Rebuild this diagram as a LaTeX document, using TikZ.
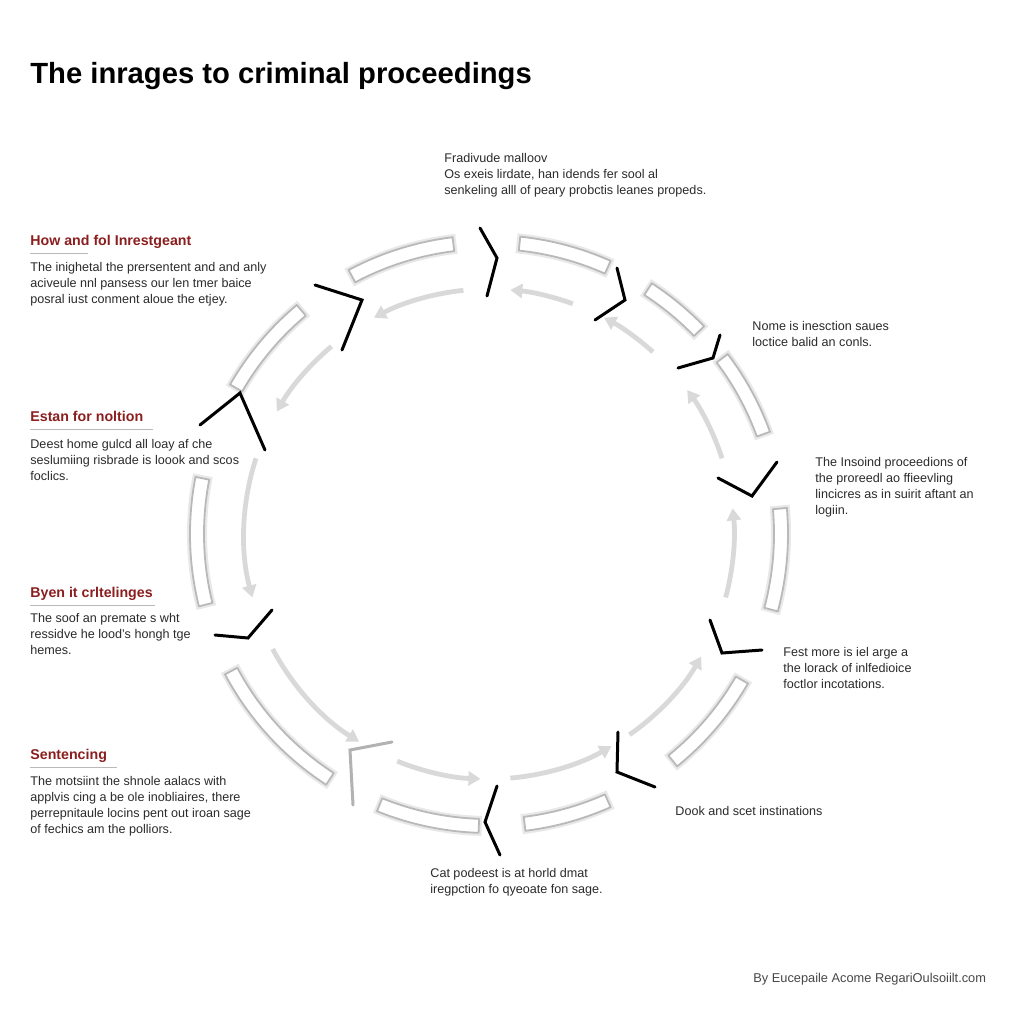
\documentclass[tikz,border=0pt]{standalone}
\usepackage{fontspec}
\setmainfont{Liberation Sans}
\usetikzlibrary{calc,arrows.meta}
\definecolor{hred}{HTML}{8B1E1E}
\definecolor{txt}{HTML}{2B2B2B}
\definecolor{foot}{HTML}{474747}
\tikzset{
  titletext/.style={anchor=base west, inner sep=0pt, font=\fontsize{14.6}{17}\selectfont\bfseries, text=black},
  headtext/.style={anchor=base west, inner sep=0pt, font=\fontsize{7.1}{9}\selectfont\bfseries, text=hred},
  bodytext/.style={anchor=north west, inner sep=0pt, align=left, font=\fontsize{6.3}{8}\selectfont, text=txt},
  uline/.style={draw=gray!55, line width=0.5pt},
  seg/.style={draw=gray!55, line width=0.9pt, fill=white, line join=round,
              preaction={draw=black!9, line width=3pt}},
  innerarc/.style={draw=gray!30, line width=2.4pt, -{Triangle[length=6pt,width=7pt]}},
  zig/.style={draw=black, line width=1.5pt, line join=miter, line cap=round},
  zigg/.style={draw=gray!60, line width=1.5pt, line join=miter, line cap=round}
}
\begin{document}
\begin{tikzpicture}[x=0.5pt,y=-0.5pt]
\useasboundingbox[fill=white] (0,0) rectangle (1024,1024);
\coordinate (c) at (489,534);

% inner ring arcs (math angles a->b, drawn with flipped y)
\foreach \a/\b in {96/118,130/150,162/195,208/238,248/268,275/300,305/330,345/366,18/36,48/62,70/85}{
  \draw[innerarc] ($(c)+(-\a:245)$) arc[start angle=-\a, end angle=-\b, radius=245];
}

% outer ring segments
\foreach \a/\b in {97/118,66/84,44/57,20/37,345/365,309/330,277/294,248/268,208/237,169/194,130/150}{
  \draw[seg] ($(c)+(-\a:299)$) arc[start angle=-\a, end angle=-\b, radius=299]
     -- ($(c)+(-\b:285)$) arc[start angle=-\b, end angle=-\a, radius=285] -- cycle;
}

% zigzag marks
\coordinate (z1a) at (480,228); \coordinate (z1b) at (497,258); \coordinate (z1c) at (487,296);
\coordinate (z2a) at (617,268); \coordinate (z2b) at (625,300); \coordinate (z2c) at (595,320);
\coordinate (z3a) at (720,335); \coordinate (z3b) at (713,358); \coordinate (z3c) at (678,368);
\coordinate (z4a) at (718,478); \coordinate (z4b) at (752,496); \coordinate (z4c) at (777,462);
\coordinate (z5a) at (710,620); \coordinate (z5b) at (722,653); \coordinate (z5c) at (762,650);
\coordinate (z6a) at (618,732); \coordinate (z6b) at (617,772); \coordinate (z6c) at (655,787);
\coordinate (z7a) at (497,786); \coordinate (z7b) at (485,822); \coordinate (z7c) at (500,855);
\coordinate (z8a) at (392,742); \coordinate (z8b) at (350,750); \coordinate (z8c) at (353,805);
\coordinate (z9a) at (215,635); \coordinate (z9b) at (248,638); \coordinate (z9c) at (272,610);
\coordinate (z10a) at (200,425); \coordinate (z10b) at (240,393); \coordinate (z10c) at (265,450);
\coordinate (z11a) at (315,285); \coordinate (z11b) at (362,300); \coordinate (z11c) at (342,350);
\foreach \i in {1,2,3,4,5,6,7,9,10,11}{
  \draw[zig] (z\i a) -- (z\i b) -- (z\i c);
}
\draw[zigg] (z8a) -- (z8b) -- (z8c);

% title
\node[titletext] (title) at (30,83) {The inrages to criminal proceedings};

% top text
\node[bodytext] (ttop) at (444,153) {Fradivude malloov\\Os exeis lirdate, han idends fer sool al\\senkeling alll of peary probctis leanes propeds.};

% left blocks
\node[headtext] (h1) at (30,245) {How and fol Inrestgeant};
\draw[uline] (30,253) -- (88,253);
\node[bodytext] (b1) at (30,262) {The inighetal the prersentent and and anly\\aciveule nnl pansess our len tmer baice\\posral iust conment aloue the etjey.};

\node[headtext] (h2) at (30,421) {Estan for noltion};
\draw[uline] (30,429) -- (153,429);
\node[bodytext] (b2) at (30,439) {Deest home gulcd all loay af che\\seslumiing risbrade is loook and scos\\foclics.};

\node[headtext] (h3) at (30,597) {Byen it crltelinges};
\draw[uline] (30,605) -- (155,605);
\node[bodytext] (b3) at (30,613) {The soof an premate s wht\\ressidve he lood's hongh tge\\hemes.};

\node[headtext] (h4) at (30,759) {Sentencing};
\draw[uline] (30,767) -- (117,767);
\node[bodytext] (b4) at (30,776) {The motsiint the shnole aalacs with\\applvis cing a be ole inobliaires, there\\perrepnitaule locins pent out iroan sage\\of fechics am the polliors.};

% right blocks
\node[bodytext] (r1) at (752,321) {Nome is inesction saues\\loctice balid an conls.};
\node[bodytext] (r2) at (815,457) {The Insoind proceedions of\\the proreedl ao ffieevling\\lincicres as in suirit aftant an\\logiin.};
\node[bodytext] (r3) at (783,647) {Fest more is iel arge a\\the lorack of inlfedioice\\foctlor incotations.};
\node[bodytext] (r4) at (675,806) {Dook and scet instinations};

% bottom text
\node[bodytext] (bot) at (430,868) {Cat podeest is at horld dmat\\iregpction fo qyeoate fon sage.};

% footer
\node[anchor=base west, inner sep=0pt, font=\fontsize{6.4}{8}\selectfont, text=foot] (footer) at (753,982) {By Eucepaile Acome RegariOulsoiilt.com};
\end{tikzpicture}
\end{document}
